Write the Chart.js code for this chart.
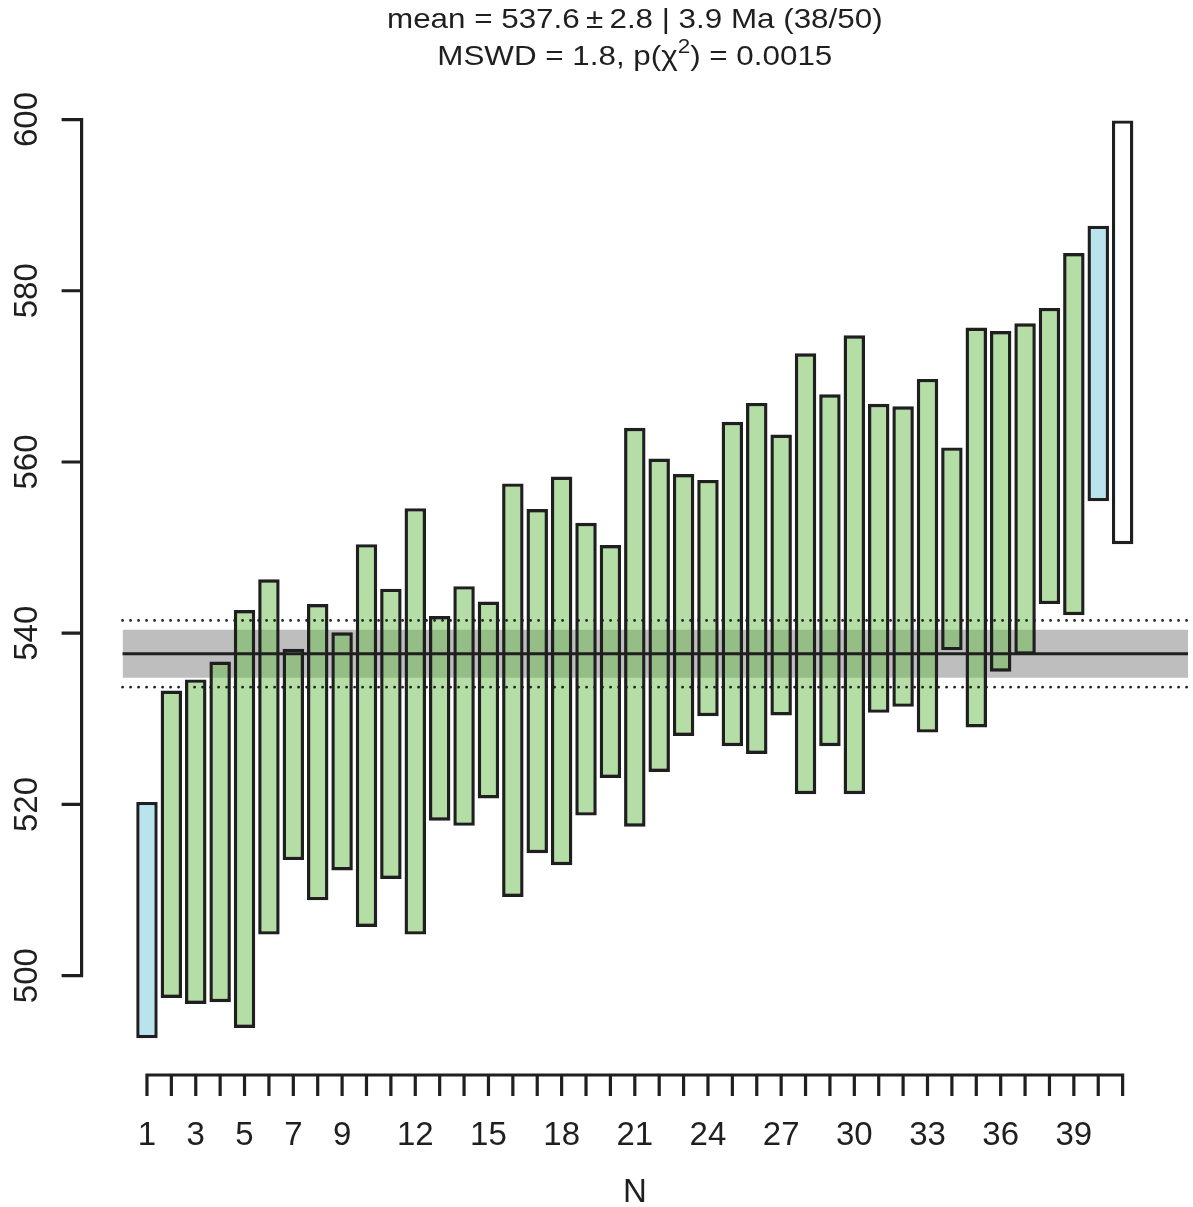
<!DOCTYPE html>
<html>
<head>
<meta charset="utf-8">
<title>Weighted mean age</title>
<script src="https://cdn.jsdelivr.net/npm/chart.js@4.4.1/dist/chart.umd.min.js"></script>
<style>
  html, body { margin: 0; padding: 0; background: #ffffff; }
  #wrap { position: relative; width: 1193px; height: 1207px; }
  canvas { display: block; }
</style>
</head>
<body>
<div id="wrap"><canvas id="chart" width="1193" height="1207"></canvas></div>
<script>
// ---- data: aliquot number, lower and upper error limit (Ma), status ----
const aliquots = [1, 2, 3, 4, 5, 6, 7, 8, 9, 10, 11, 12, 13, 14, 15, 16, 17, 18, 19, 20,
                  21, 22, 23, 24, 25, 26, 27, 28, 29, 30, 31, 32, 33, 34, 35, 36, 37, 38, 39, 40, 41];
const lowerAges = [492.7, 497.4, 496.7, 496.9, 493.9, 504.8, 513.5, 508.8, 512.3, 505.7,
                   511.3, 504.8, 518.1, 517.5, 520.7, 509.2, 514.3, 512.9, 518.7, 523.1,
                   517.4, 523.8, 528.0, 530.3, 526.8, 525.9, 530.4, 521.2, 526.8, 521.2,
                   530.7, 531.4, 528.4, 538.0, 529.0, 535.5, 537.5, 543.4, 542.1, 555.4, 550.4];
const upperAges = [520.3, 533.3, 534.6, 536.7, 542.7, 546.3, 538.2, 543.4, 540.1, 550.4,
                   545.2, 554.6, 542.0, 545.5, 543.7, 557.5, 554.5, 558.3, 552.9, 550.3,
                   564.0, 560.4, 558.6, 557.9, 564.7, 566.9, 563.2, 572.7, 567.9, 574.8,
                   566.8, 566.5, 569.7, 561.7, 575.7, 575.3, 576.2, 578.0, 584.4, 587.6, 599.9];
// 'accepted' = used in the mean, 'rejected' = outlier, 'omitted' = excluded beforehand
const status = ['rejected', 'accepted', 'accepted', 'accepted', 'accepted', 'accepted', 'accepted',
                'accepted', 'accepted', 'accepted', 'accepted', 'accepted', 'accepted', 'accepted',
                'accepted', 'accepted', 'accepted', 'accepted', 'accepted', 'accepted', 'accepted',
                'accepted', 'accepted', 'accepted', 'accepted', 'accepted', 'accepted', 'accepted',
                'accepted', 'accepted', 'accepted', 'accepted', 'accepted', 'accepted', 'accepted',
                'accepted', 'accepted', 'accepted', 'accepted', 'rejected', 'omitted'];

// weighted mean and its uncertainties (Ma)
const meanAge = 537.6;
const meanSigma = 2.8;
const meanCI = 3.9;

// axis ticks and labels
const yTicks = [500, 520, 540, 560, 580, 600];
const xTickLabels = [1, 3, 5, 7, 9, 12, 15, 18, 21, 24, 27, 30, 33, 36, 39];
const xAxisTitle = 'N';
const titleLine1 = 'mean = 537.6\u2009\u00B1\u20092.8 | 3.9 Ma (38/50)';
const titleLine2 = [
  { text: 'MSWD = 1.8, p(\u03C7' },
  { text: '2', sup: true },
  { text: ') = 0.0015' }
];

// ---- styling ----
const INK = '#1f1f1f';
const FONT = "'Liberation Sans', Arial, Helvetica, sans-serif";
const fillFor = {
  accepted: 'rgba(105,190,75,0.5)',
  rejected: '#b9e4ed',
  omitted: '#ffffff'
};

const bars = aliquots.map((n, i) => ({ x: n, y: [lowerAges[i], upperAges[i]] }));
const xFirst = aliquots[0];
const xLast = aliquots[aliquots.length - 1];
const bandStart = 0;
const bandEnd = 43.68;
const flat = v => [{ x: bandStart, y: v }, { x: bandEnd, y: v }];

// R-style axes, tick labels and the two-line title
const rDecorations = {
  id: 'rDecorations',
  afterDraw(chart) {
    const { ctx, chartArea, scales } = chart;
    const xs = scales.x, ys = scales.y;
    ctx.save();
    ctx.strokeStyle = INK;
    ctx.fillStyle = INK;
    ctx.lineWidth = 3.2;
    ctx.lineCap = 'butt';

    // y axis
    const ax = chartArea.left;
    const yTop = ys.getPixelForValue(yTicks[yTicks.length - 1]);
    const yBot = ys.getPixelForValue(yTicks[0]);
    ctx.beginPath();
    ctx.moveTo(ax, yTop - 1.6);
    ctx.lineTo(ax, yBot + 1.6);
    yTicks.forEach(v => {
      const p = ys.getPixelForValue(v);
      ctx.moveTo(ax - 20, p);
      ctx.lineTo(ax, p);
    });
    ctx.stroke();

    ctx.font = '33px ' + FONT;
    ctx.textAlign = 'center';
    ctx.textBaseline = 'alphabetic';
    yTicks.forEach(v => {
      const p = ys.getPixelForValue(v);
      ctx.save();
      ctx.translate(37, p);
      ctx.rotate(-Math.PI / 2);
      ctx.fillText(String(v), 0, 0);
      ctx.restore();
    });

    // x axis
    const ay = chartArea.bottom;
    ctx.beginPath();
    ctx.moveTo(xs.getPixelForValue(xFirst) - 1.6, ay);
    ctx.lineTo(xs.getPixelForValue(xLast) + 1.6, ay);
    aliquots.forEach(n => {
      const p = xs.getPixelForValue(n);
      ctx.moveTo(p, ay);
      ctx.lineTo(p, ay + 21);
    });
    ctx.stroke();
    xTickLabels.forEach(n => {
      ctx.fillText(String(n), xs.getPixelForValue(n), 1145);
    });
    const midX = (chartArea.left + chartArea.right) / 2;
    ctx.fillText(xAxisTitle, midX, 1202);

    // title (two lines, centred over the plot region)
    const tSize = 28, stretch = 1.12;
    ctx.save();
    ctx.translate(midX, 0);
    ctx.scale(stretch, 1);
    ctx.font = tSize + 'px ' + FONT;
    ctx.textAlign = 'center';
    ctx.fillText(titleLine1, 0, 28);
    // second line with superscript
    ctx.textAlign = 'left';
    const supSize = Math.round(tSize * 0.7);
    let total = 0;
    titleLine2.forEach(part => {
      ctx.font = (part.sup ? supSize : tSize) + 'px ' + FONT;
      part.w = ctx.measureText(part.text).width;
      total += part.w;
    });
    let cx = -total / 2;
    titleLine2.forEach(part => {
      ctx.font = (part.sup ? supSize : tSize) + 'px ' + FONT;
      ctx.fillText(part.text, cx, part.sup ? 65 - tSize * 0.42 : 65);
      cx += part.w;
    });
    ctx.restore();

    ctx.restore();
  }
};

new Chart(document.getElementById('chart'), {
  type: 'bar',
  data: {
    datasets: [
      {
        type: 'line', label: 'band upper', data: flat(meanAge + meanSigma),
        borderWidth: 0, pointRadius: 0, fill: false, order: 5
      },
      {
        type: 'line', label: 'band lower', data: flat(meanAge - meanSigma),
        borderWidth: 0, pointRadius: 0, fill: '-1', backgroundColor: '#bebebe', order: 4
      },
      {
        type: 'bar', label: 'aliquots', data: bars,
        backgroundColor: status.map(s => fillFor[s]),
        borderColor: INK, borderWidth: 3.4, borderSkipped: false,
        barPercentage: 0.88, categoryPercentage: 1.0, order: 3
      },
      {
        type: 'line', label: 'mean', data: flat(meanAge),
        borderColor: INK, borderWidth: 3.2, pointRadius: 0, fill: false, order: 1
      },
      {
        type: 'line', label: 'ci upper', data: flat(meanAge + meanCI),
        borderColor: INK, borderWidth: 2.8, borderDash: [0, 8], borderCapStyle: 'round',
        pointRadius: 0, fill: false, order: 1
      },
      {
        type: 'line', label: 'ci lower', data: flat(meanAge - meanCI),
        borderColor: INK, borderWidth: 2.8, borderDash: [0, 8], borderCapStyle: 'round',
        pointRadius: 0, fill: false, order: 1
      }
    ]
  },
  options: {
    responsive: false,
    animation: false,
    devicePixelRatio: 1,
    layout: { padding: { left: 81.6, right: 5, top: 81, bottom: 132 } },
    plugins: { legend: { display: false }, tooltip: { enabled: false }, title: { display: false } },
    scales: {
      x: { type: 'linear', min: -1.68, max: 43.68, offset: false, display: false },
      y: { type: 'linear', min: 488.4, max: 604.5, display: false }
    }
  },
  plugins: [rDecorations]
});
</script>
</body>
</html>
